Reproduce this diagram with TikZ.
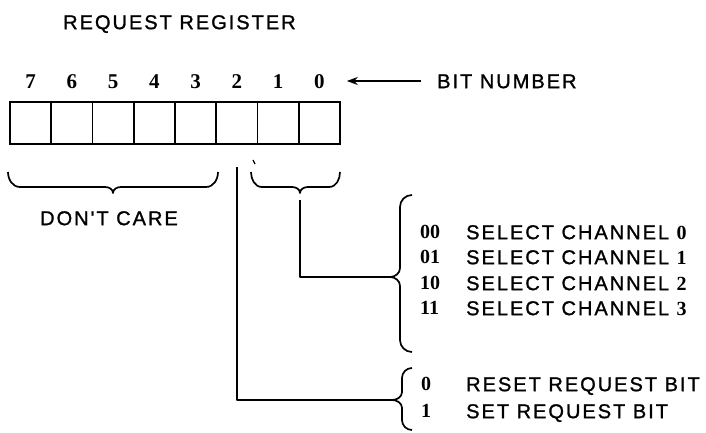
\documentclass[tikz,border=0pt]{standalone}
\usepackage{fontspec}
\setmainfont{Liberation Sans}
\newfontfamily\lab[LetterSpace=10,FakeBold=1.2]{Liberation Sans}
\newfontfamily\dig{Liberation Serif}
\usetikzlibrary{arrows.meta}
\tikzset{
  ln/.style={line width=1.7pt, line join=round},
  cell/.style={draw, line width=1.7pt, minimum width=41.25pt, minimum height=42pt, inner sep=0pt, outer sep=0pt},
  lbl/.style={anchor=west, inner sep=0pt, text height=14.3pt, text depth=0pt, font=\lab\fontsize{20}{20}\selectfont},
  bitno/.style={inner sep=0pt, text height=14.5pt, text depth=0pt, font=\dig\bfseries\fontsize{21}{21}\selectfont},
  code/.style={anchor=west, inner sep=0pt, text height=13.5pt, text depth=0pt, font=\dig\bfseries\fontsize{20}{20}\selectfont},
  arr/.style={line width=1.7pt, -{Stealth[length=11pt,width=8pt]}}
}
\begin{document}
\begin{tikzpicture}[x=1pt,y=-1pt]
\useasboundingbox (0,0) rectangle (706,433);
% title
\node[lbl] (title) at (63,22) {REQUEST REGISTER};
% cells and bit numbers
\foreach \i/\b in {0/7,1/6,2/5,3/4,4/3,5/2,6/1,7/0}{
  \node[cell] (c\b) at ({10+41.25*\i+20.625},123) {};
  \node[bitno] (n\b) at ({10+41.25*\i+20.625},81) {\b};
}
\node[lbl] (bitnum) at (437,81) {BIT NUMBER};
\draw[arr, shorten <=16pt, shorten >=22pt] (bitnum.west) -- (n0.east);
% brace under bits 7..3
\coordinate (dc) at (113,193);
\draw[ln] (8,172) to[out=-90,in=180] (20,187) -- (105,187) to[out=0,in=90] (dc)
  to[out=90,in=180] (121,187) -- (206,187) to[out=0,in=-90] (218,172);
\node[lbl] (dontcare) at (40,218) {DON'T CARE};
% brace under bits 1..0
\coordinate (b10) at (300,193);
\draw[ln] (251,172) to[out=-90,in=180] (262,187) -- (292,187) to[out=0,in=90] (b10)
  to[out=90,in=180] (308,187) -- (329,187) to[out=0,in=-90] (340,172);
% small tick
\draw[line width=1.2pt] (253,160) -- (255,164);
% big brace for channel select
\coordinate (sel) at (390,277);
\draw[ln] (412,195) to[out=180,in=90] (400,207) -- (400,268) to[out=-90,in=0] (sel)
  to[out=0,in=90] (400,286) -- (400,340) to[out=-90,in=180] (412,352);
% lower brace for request bit
\coordinate (req) at (392,400);
\draw[ln] (412,368) to[out=180,in=90] (402,378) -- (402,392) to[out=-90,in=0] (req)
  to[out=0,in=90] (402,408) -- (402,420) to[out=-90,in=180] (412,430);
% connector lines
\coordinate (b2top) at (237,167);
\coordinate (b10top) at (300,200);
\draw[ln] (b2top) |- (req);
\draw[ln] (b10top) |- (sel);
% channel select texts
\node[code] (k00) at (420,232) {00};
\node[lbl]  (t00) at (466,232) {SELECT CHANNEL {\dig\bfseries 0}};
\node[code] (k01) at (420,257) {01};
\node[lbl]  (t01) at (466,257) {SELECT CHANNEL {\dig\bfseries 1}};
\node[code] (k10) at (420,283) {10};
\node[lbl]  (t10) at (466,283) {SELECT CHANNEL {\dig\bfseries 2}};
\node[code] (k11) at (420,308) {11};
\node[lbl]  (t11) at (466,308) {SELECT CHANNEL {\dig\bfseries 3}};
% request bit texts
\node[code] (r0) at (421,384) {0};
\node[lbl]  (tr0) at (466,384) {RESET REQUEST BIT};
\node[code] (r1) at (421,411) {1};
\node[lbl]  (tr1) at (466,411) {SET REQUEST BIT};
\end{tikzpicture}
\end{document}
